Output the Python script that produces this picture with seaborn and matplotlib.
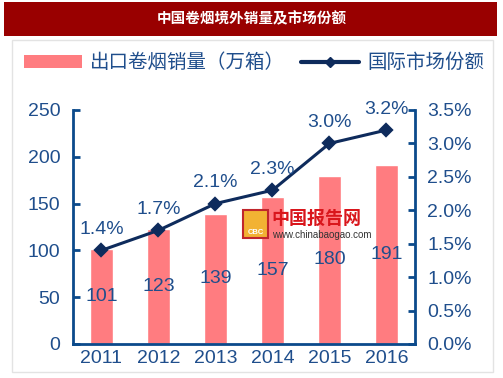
import matplotlib
matplotlib.use('Agg')
import matplotlib.pyplot as plt
import seaborn as sns
import pandas as pd
from matplotlib.patches import Rectangle, Patch
from matplotlib.lines import Line2D

years = ['2011', '2012', '2013', '2014', '2015', '2016']
export_volume = [101, 123, 139, 157, 180, 191]
market_share = [1.4, 1.7, 2.1, 2.3, 3.0, 3.2]
share_labels = ['1.4%', '1.7%', '2.1%', '2.3%', '3.0%', '3.2%']
left_ticks = [0, 50, 100, 150, 200, 250]
right_ticks = [0, 0.5, 1.0, 1.5, 2.0, 2.5, 3.0, 3.5]

sns.set_style('white')
plt.rcParams['font.family'] = ['Liberation Sans', 'Noto Sans CJK SC']

bar_color = '#FF7C80'
line_color = '#0E2B5C'
axis_color = '#0B4A8B'
text_color = '#1F4E8C'

df = pd.DataFrame({'year': years, 'volume': export_volume, 'share': market_share})

fig = plt.figure(figsize=(5.03, 3.78), dpi=100)
fig.patch.set_facecolor('white')

# title bar and panel border
fig.patches.append(Rectangle((0.008, 0.905), 0.98, 0.09, transform=fig.transFigure,
                             facecolor='#990000', edgecolor='none', zorder=0))
fig.patches.append(Rectangle((0.024, 0.015), 0.956, 0.878, transform=fig.transFigure,
                             facecolor='none', edgecolor='#E3E3E3', lw=1, zorder=0))
fig.text(0.5, 0.95, '中国卷烟境外销量及市场份额', color='white', fontsize=10.5,
         fontweight='bold', ha='center', va='center')

ax = fig.add_axes([0.145, 0.09, 0.68, 0.619])
sns.barplot(data=df, x='year', y='volume', color=bar_color, width=0.39,
            saturation=1, ax=ax)
ax.bar_label(ax.containers[0], label_type='center', color=text_color, fontsize=14)
ax.set_ylim(0, 250)
ax.set_yticks(left_ticks)
ax.set_xlim(-0.5, 5.5)
ax.set_xlabel('')
ax.set_ylabel('')

ax2 = ax.twinx()
sns.pointplot(data=df, x='year', y='share', color=line_color, markers='D',
              markersize=6, linewidth=2.2, ax=ax2)
for i, lab in enumerate(share_labels):
    ax2.annotate(lab, (i, market_share[i]), xytext=(0, 9), textcoords='offset points',
                 ha='center', va='bottom', color=text_color, fontsize=14)
ax2.set_ylim(0, 3.5)
ax2.set_yticks(right_ticks)
ax2.set_yticklabels([f'{t:.1f}%' for t in right_ticks])
ax2.set_xlim(-0.5, 5.5)
ax2.set_ylabel('')

for a in (ax, ax2):
    for s in a.spines.values():
        s.set_visible(False)
    a.tick_params(colors=axis_color, labelcolor=text_color, labelsize=14,
                  direction='in', length=5, width=2)
ax.spines['left'].set_visible(True)
ax.spines['bottom'].set_visible(True)
ax2.spines['right'].set_visible(True)
for s in (ax.spines['left'], ax.spines['bottom'], ax2.spines['right']):
    s.set_color(axis_color)
    s.set_linewidth(2)
ax.tick_params(axis='x', length=0, pad=4)
ax.tick_params(axis='y', pad=9)
ax2.tick_params(axis='y', pad=9)

# watermark
fig.patches.append(Rectangle((0.484, 0.37), 0.048, 0.075, transform=fig.transFigure,
                             facecolor='#F2B233', edgecolor='#C0262C', lw=1.5, zorder=3))
fig.text(0.508, 0.385, 'CBC', color='white', fontsize=5.5, fontweight='bold',
         ha='center', va='center', zorder=4)
fig.text(0.54, 0.42, '中国报告网', color='#D9161C', fontsize=13, fontweight='bold',
         ha='left', va='center')
fig.text(0.54, 0.378, 'www.chinabaogao.com', color='#333333', fontsize=7,
         ha='left', va='center')

handles = [Patch(facecolor=bar_color, edgecolor='none'),
           Line2D([0], [0], color=line_color, lw=3, marker='D', markersize=5)]
fig.legend(handles, ['出口卷烟销量（万箱）', '国际市场份额'], loc='center',
           bbox_to_anchor=(0.505, 0.833), ncol=2, frameon=False, fontsize=14,
           labelcolor=text_color, handlelength=3.0, handletextpad=0.4,
           columnspacing=0.8)

fig.savefig('out.png', dpi=100)
